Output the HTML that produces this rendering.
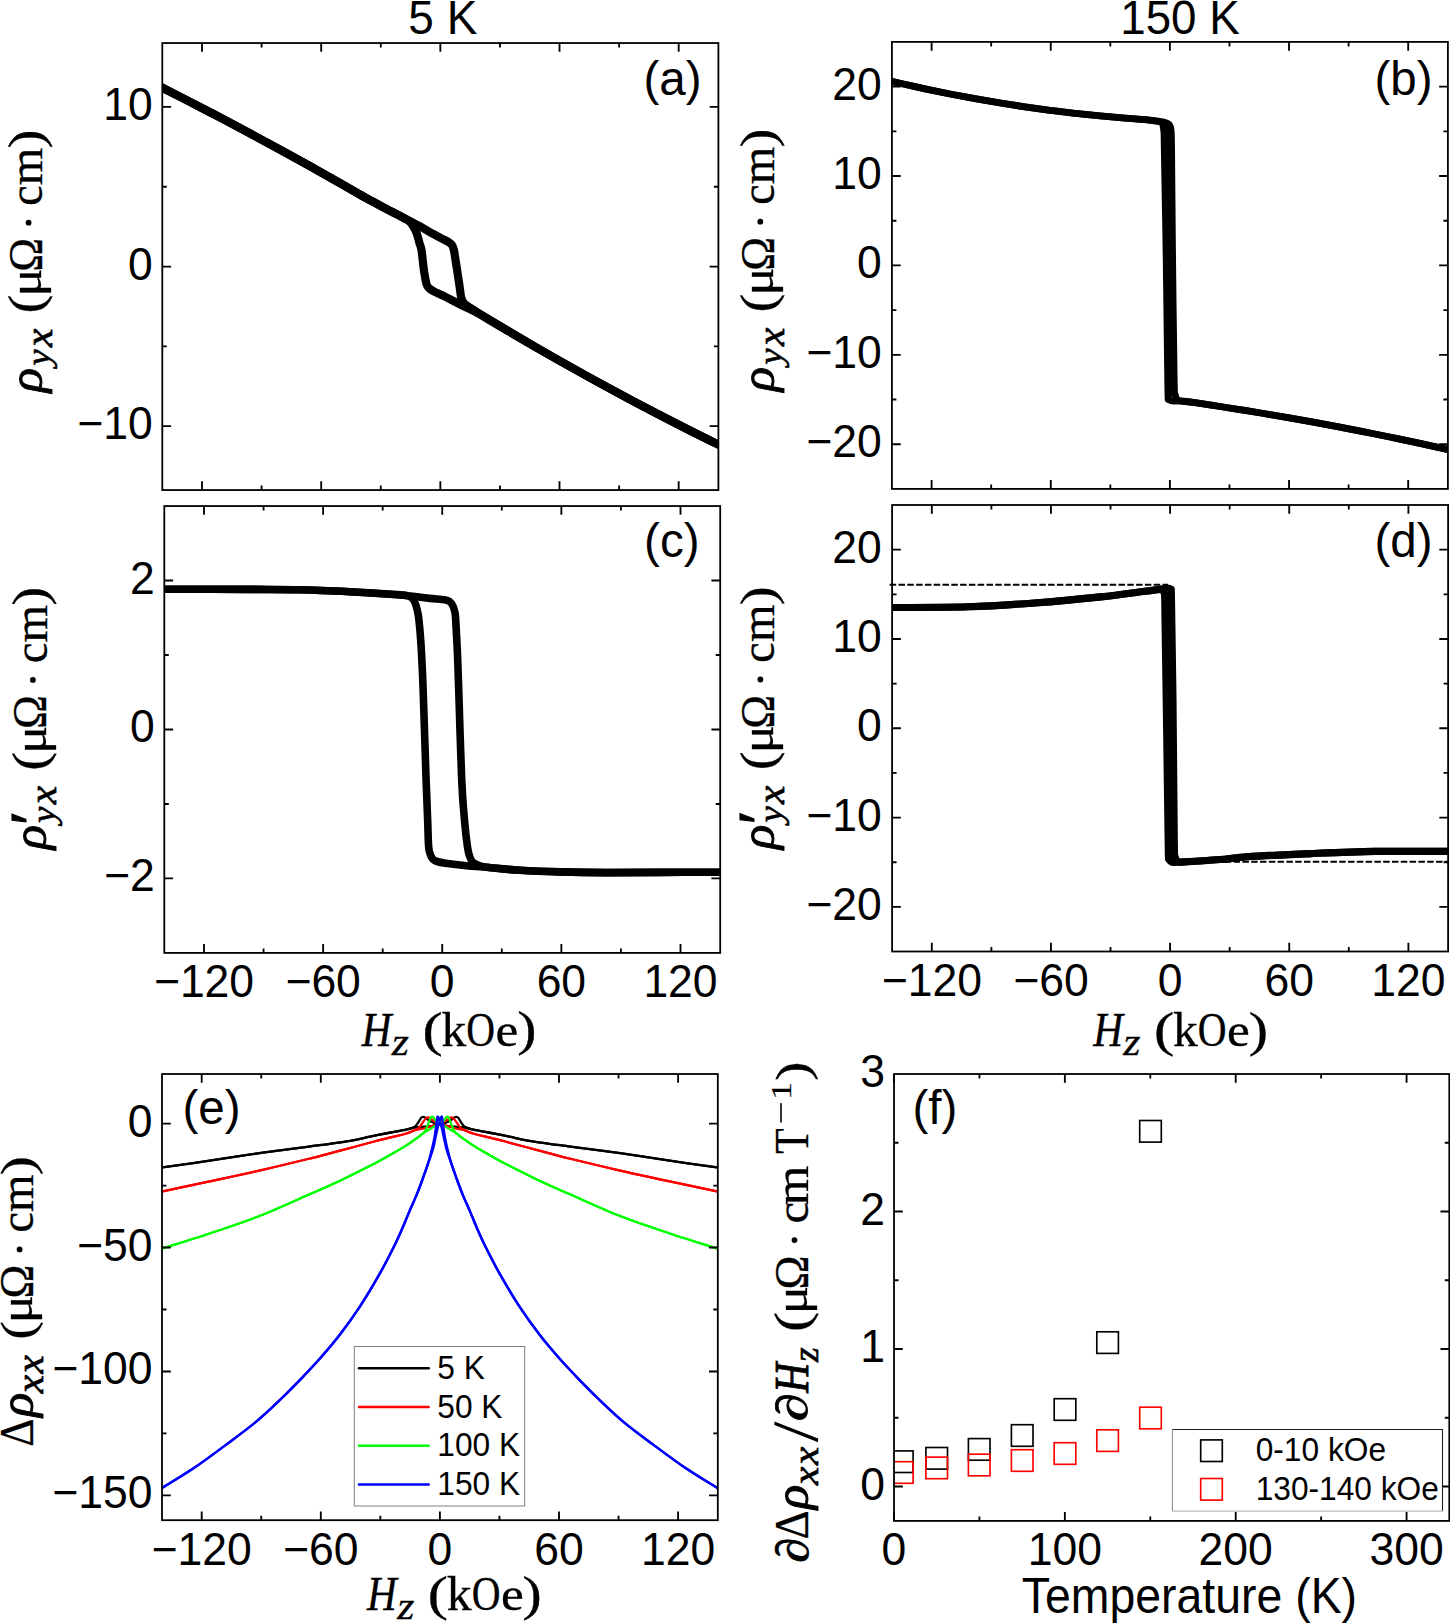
<!DOCTYPE html><html><head><meta charset="utf-8"><style>html,body{margin:0;padding:0;background:#fff;overflow:hidden}svg{display:block}</style></head><body><svg xmlns="http://www.w3.org/2000/svg" width="1450" height="1623" viewBox="0 0 1450 1623">
<style>.s{font-family:"Liberation Sans",sans-serif;fill:#000}.r{font-family:"Liberation Serif",serif;fill:#000;stroke:#000;stroke-width:0.3px}.i{font-style:italic;stroke-width:0.9px}</style>
<defs>
<clipPath id="ca"><rect x="162.3" y="43.05" width="556.1" height="447"/></clipPath>
<clipPath id="cb"><rect x="891.9" y="41.9" width="556" height="447"/></clipPath>
<clipPath id="cc"><rect x="164.3" y="506.05" width="555.9" height="446.85"/></clipPath>
<clipPath id="cd"><rect x="892.1" y="505" width="556" height="446.5"/></clipPath>
<clipPath id="ce"><rect x="162" y="1074" width="555.8" height="446.2"/></clipPath>
<clipPath id="cf"><rect x="894" y="1074" width="555.3" height="446.9"/></clipPath>
</defs>
<rect width="1450" height="1623" fill="#fff"/>
<path d="M155,589.2 C156.55,589.2 148.47,589.17 164.3,589.2 C180.13,589.23 227.38,589.32 250,589.4 C272.62,589.48 283.38,589.32 300,589.7 C316.62,590.08 334.53,590.95 349.7,591.7 C364.87,592.45 380.43,593.43 391,594.2 C401.57,594.97 406.65,595.6 413.1,596.3 C419.55,597 424.45,597.82 429.7,598.4 C434.95,598.98 441.3,599.28 444.6,599.8 C447.9,600.32 448.13,600.53 449.5,601.5 C450.87,602.47 451.92,603.85 452.8,605.6 C453.68,607.35 454.32,609.65 454.8,612 C455.28,614.35 455.27,612.9 455.7,619.7 C456.13,626.5 456.92,641.77 457.4,652.8 C457.88,663.83 457.88,664.7 458.6,685.9 C459.32,707.1 460.7,757.42 461.7,780 C462.7,802.58 463.65,810.37 464.6,821.4 C465.55,832.43 466.58,840.43 467.4,846.2 C468.22,851.97 468.6,853.32 469.5,856 C470.4,858.68 471.05,860.67 472.8,862.3 C474.55,863.93 476.97,864.9 480,865.8 C483.03,866.7 484.33,866.95 491,867.7 C497.67,868.45 508.5,869.6 520,870.3 C531.5,871 545.52,871.52 560,871.9 C574.48,872.28 590.23,872.52 606.9,872.6 C623.57,872.68 641.42,872.47 660,872.4 C678.58,872.33 707.57,872.23 718.4,872.2 C729.23,872.17 723.9,872.2 725,872.2" fill="none" stroke="#000" stroke-width="7.6" stroke-linejoin="round" stroke-linecap="round" clip-path="url(#cc)"/>
<path d="M725,872.2 C723.9,872.2 729.23,872.17 718.4,872.2 C707.57,872.23 678.58,872.33 660,872.4 C641.42,872.47 623.57,872.68 606.9,872.6 C590.23,872.52 574.48,872.28 560,871.9 C545.52,871.52 531.5,871 520,870.3 C508.5,869.6 499.97,868.47 491,867.7 C482.03,866.93 473.78,866.45 466.2,865.7 C458.62,864.95 450.37,863.9 445.5,863.2 C440.63,862.5 439.07,862.13 437,861.5 C434.93,860.87 434.22,860.57 433.1,859.4 C431.98,858.23 431.05,856.7 430.3,854.5 C429.55,852.3 429.03,851.72 428.6,846.2 C428.17,840.68 428.12,832.43 427.7,821.4 C427.28,810.37 426.88,802.58 426.1,780 C425.32,757.42 423.85,708.48 423,685.9 C422.15,663.32 421.68,655.53 421,644.5 C420.32,633.47 419.53,625.45 418.9,619.7 C418.27,613.95 417.82,612.77 417.2,610 C416.58,607.23 415.98,605 415.2,603.1 C414.42,601.2 413.87,599.85 412.5,598.6 C411.13,597.35 410.58,596.33 407,595.6 C403.42,594.87 400.55,594.85 391,594.2 C381.45,593.55 364.87,592.45 349.7,591.7 C334.53,590.95 316.62,590.08 300,589.7 C283.38,589.32 272.62,589.48 250,589.4 C227.38,589.32 180.13,589.23 164.3,589.2 C148.47,589.17 156.55,589.2 155,589.2" fill="none" stroke="#000" stroke-width="7.6" stroke-linejoin="round" stroke-linecap="round" clip-path="url(#cc)"/>
<path d="M155,84.03 C156.22,84.65 156.47,84.74 162.3,87.71 C168.13,90.68 180.38,96.88 190,101.84 C199.62,106.8 210,112.19 220,117.45 C230,122.7 240,128.01 250,133.38 C260,138.74 270,144.16 280,149.63 C290,155.1 300,160.62 310,166.2 C320,171.77 330.83,177.89 340,183.09 C349.17,188.29 357.13,193.04 365,197.41 C372.87,201.78 382.2,206.65 387.2,209.3 C392.2,211.95 392.12,211.8 395,213.3 C397.88,214.8 400.33,216.12 404.5,218.3 C408.67,220.48 415.15,223.75 420,226.4 C424.85,229.05 429.72,232.05 433.6,234.2 C437.48,236.35 440.82,238 443.3,239.3 C445.78,240.6 447.05,241.05 448.5,242 C449.95,242.95 451.1,243.67 452,245 C452.9,246.33 453.32,247.5 453.9,250 C454.48,252.5 454.98,256.78 455.5,260 C456.02,263.22 456.27,264.53 457,269.3 C457.73,274.07 459.2,283.9 459.9,288.6 C460.6,293.3 460.52,295.07 461.2,297.5 C461.88,299.93 462.45,301.47 464,303.2 C465.55,304.93 467,305.58 470.5,307.9 C474,310.22 478.42,313.11 485,317.13 C491.58,321.16 501.67,327.14 510,332.06 C518.33,336.99 526.67,341.86 535,346.69 C543.33,351.51 551.67,356.28 560,361.01 C568.33,365.73 576.67,370.4 585,375.02 C593.33,379.64 601.67,384.21 610,388.73 C618.33,393.25 626.67,397.71 635,402.13 C643.33,406.55 651.67,410.92 660,415.23 C668.33,419.55 676.67,423.81 685,428.02 C693.33,432.24 704.43,437.74 710,440.51 C715.57,443.28 715.73,443.33 718.4,444.64 C721.07,445.94 724.73,447.73 726,448.34" fill="none" stroke="#000" stroke-width="8.2" stroke-linejoin="round" stroke-linecap="round" clip-path="url(#ca)"/>
<path d="M726,448.34 C724.73,447.73 721.07,445.94 718.4,444.64 C715.73,443.33 715.57,443.28 710,440.51 C704.43,437.74 693.33,432.24 685,428.02 C676.67,423.81 668.33,419.55 660,415.23 C651.67,410.92 643.33,406.55 635,402.13 C626.67,397.71 618.33,393.25 610,388.73 C601.67,384.21 593.33,379.64 585,375.02 C576.67,370.4 568.33,365.73 560,361.01 C551.67,356.28 543.33,351.51 535,346.69 C526.67,341.86 518.33,336.99 510,332.06 C501.67,327.14 491.18,320.71 485,317.13 C478.82,313.56 477.33,312.86 472.9,310.6 C468.47,308.34 463.22,306.02 458.4,303.6 C453.58,301.18 448.02,298.1 444,296.1 C439.98,294.1 436.72,292.85 434.3,291.6 C431.88,290.35 430.75,289.7 429.5,288.6 C428.25,287.5 427.48,286.6 426.8,285 C426.12,283.4 425.9,281.62 425.4,279 C424.9,276.38 424.45,274.13 423.8,269.3 C423.15,264.47 422.2,254.28 421.5,250 C420.8,245.72 420.38,246.35 419.6,243.6 C418.82,240.85 417.8,236.3 416.8,233.5 C415.8,230.7 414.82,228.82 413.6,226.8 C412.38,224.78 411.02,222.82 409.5,221.4 C407.98,219.98 406.92,219.65 404.5,218.3 C402.08,216.95 397.88,214.8 395,213.3 C392.12,211.8 392.2,211.95 387.2,209.3 C382.2,206.65 372.87,201.78 365,197.41 C357.13,193.04 349.17,188.29 340,183.09 C330.83,177.89 320,171.77 310,166.2 C300,160.62 290,155.1 280,149.63 C270,144.16 260,138.74 250,133.38 C240,128.01 230,122.7 220,117.45 C210,112.19 199.62,106.8 190,101.84 C180.38,96.88 168.13,90.68 162.3,87.71 C156.47,84.74 156.22,84.65 155,84.03" fill="none" stroke="#000" stroke-width="8.2" stroke-linejoin="round" stroke-linecap="round" clip-path="url(#ca)"/>
<path d="M1167.4,126 L1171.4,396" stroke="#000" stroke-width="8" clip-path="url(#cb)"/>
<path d="M885,79.75 C887.5,80.34 893.33,81.77 900,83.28 C906.67,84.8 916.67,87.06 925,88.84 C933.33,90.62 941.67,92.33 950,93.97 C958.33,95.61 966.67,97.19 975,98.69 C983.33,100.19 991.67,101.62 1000,102.98 C1008.33,104.34 1016.67,105.63 1025,106.85 C1033.33,108.07 1041.67,109.22 1050,110.3 C1058.33,111.37 1066.67,112.38 1075,113.32 C1083.33,114.26 1091.67,115.13 1100,115.93 C1108.33,116.73 1117.5,117.51 1125,118.11 C1132.5,118.72 1139.5,119.02 1145,119.56 C1150.5,120.09 1154.75,120.86 1158,121.3 C1161.25,121.74 1162.63,121.67 1164.5,122.2 C1166.37,122.73 1168.12,123.2 1169.2,124.5 C1170.28,125.8 1170.6,125.75 1171,130 C1171.4,134.25 1171.35,130 1171.6,150 C1171.85,170 1172.07,211.67 1172.5,250 C1172.93,288.33 1173.73,355.83 1174.2,380 C1174.67,404.17 1174.67,391.62 1175.3,395 C1175.93,398.38 1177.05,399.3 1178,400.3 C1178.95,401.3 1178.17,400.59 1181,401 C1183.83,401.41 1188.5,401.82 1195,402.73 C1201.5,403.65 1211.67,405.21 1220,406.49 C1228.33,407.78 1236.67,409.09 1245,410.44 C1253.33,411.79 1261.67,413.17 1270,414.58 C1278.33,415.99 1286.67,417.43 1295,418.91 C1303.33,420.38 1311.67,421.89 1320,423.43 C1328.33,424.96 1336.67,426.53 1345,428.13 C1353.33,429.74 1361.67,431.37 1370,433.03 C1378.33,434.7 1386.67,436.39 1395,438.12 C1403.33,439.85 1411.67,441.61 1420,443.4 C1428.33,445.19 1439,447.55 1445,448.87 C1451,450.2 1454.17,450.93 1456,451.34" fill="none" stroke="#000" stroke-width="6.8" stroke-linejoin="round" clip-path="url(#cb)"/>
<path d="M1456,451.34 C1454.17,450.93 1451,450.2 1445,448.87 C1439,447.55 1428.33,445.19 1420,443.4 C1411.67,441.61 1403.33,439.85 1395,438.12 C1386.67,436.39 1378.33,434.7 1370,433.03 C1361.67,431.37 1353.33,429.74 1345,428.13 C1336.67,426.53 1328.33,424.96 1320,423.43 C1311.67,421.89 1303.33,420.38 1295,418.91 C1286.67,417.43 1278.33,415.99 1270,414.58 C1261.67,413.17 1253.33,411.79 1245,410.44 C1236.67,409.09 1228.33,407.78 1220,406.49 C1211.67,405.21 1201.5,403.65 1195,402.73 C1188.5,401.82 1184.67,401.29 1181,401 C1177.33,400.71 1175.03,401.42 1173,401 C1170.97,400.58 1169.67,401.17 1168.8,398.5 C1167.93,395.83 1168.23,408.08 1167.8,385 C1167.37,361.92 1166.78,299.17 1166.2,260 C1165.62,220.83 1164.68,171.33 1164.3,150 C1163.92,128.67 1164.2,136.33 1163.9,132 C1163.6,127.67 1163.32,125.77 1162.5,124 C1161.68,122.23 1159.75,121.85 1159,121.4 C1158.25,120.95 1160.33,121.61 1158,121.3 C1155.67,120.99 1150.5,120.09 1145,119.56 C1139.5,119.02 1132.5,118.72 1125,118.11 C1117.5,117.51 1108.33,116.73 1100,115.93 C1091.67,115.13 1083.33,114.26 1075,113.32 C1066.67,112.38 1058.33,111.37 1050,110.3 C1041.67,109.22 1033.33,108.07 1025,106.85 C1016.67,105.63 1008.33,104.34 1000,102.98 C991.67,101.62 983.33,100.19 975,98.69 C966.67,97.19 958.33,95.61 950,93.97 C941.67,92.33 933.33,90.62 925,88.84 C916.67,87.06 906.67,84.8 900,83.28 C893.33,81.77 887.5,80.34 885,79.75" fill="none" stroke="#000" stroke-width="6.8" stroke-linejoin="round" clip-path="url(#cb)"/>
<path d="M889.7,584.8H1168" stroke="#000" stroke-width="2" stroke-dasharray="6.5 2.3" fill="none"/>
<path d="M1172,861.7H1447" stroke="#000" stroke-width="2" stroke-dasharray="6.5 2.3" fill="none"/>
<path d="M1167.9,592 L1171.6,858" stroke="#000" stroke-width="8" clip-path="url(#cd)"/>
<path d="M885,607.6 C886.37,607.58 879.32,607.63 893.2,607.5 C907.08,607.37 944.75,607.55 968.3,606.8 C991.85,606.05 1012.43,604.65 1034.5,603 C1056.57,601.35 1082.32,598.85 1100.7,596.9 C1119.08,594.95 1134.5,592.6 1144.8,591.3 C1155.1,590 1158.72,589.65 1162.5,589.1 C1166.28,588.55 1166.12,587.77 1167.5,588 C1168.88,588.23 1170.13,588.5 1170.8,590.5 C1171.47,592.5 1171.13,581.75 1171.5,600 C1171.87,618.25 1172.53,660 1173,700 C1173.47,740 1173.97,814 1174.3,840 C1174.63,866 1174.38,852.42 1175,856 C1175.62,859.58 1176.48,860.52 1178,861.5 C1179.52,862.48 1177.1,862.23 1184.1,861.9 C1191.1,861.57 1209.53,860.35 1220,859.5 C1230.47,858.65 1231.73,857.78 1246.9,856.8 C1262.07,855.82 1289.62,854.5 1311,853.6 C1332.38,852.7 1352.75,851.77 1375.2,851.4 C1397.65,851.03 1432.4,851.4 1445.7,851.4 C1459,851.4 1453.45,851.4 1455,851.4" fill="none" stroke="#000" stroke-width="7.1" stroke-linejoin="round" clip-path="url(#cd)"/>
<path d="M1455,851.4 C1453.45,851.4 1459,851.4 1445.7,851.4 C1432.4,851.4 1397.65,851.03 1375.2,851.4 C1352.75,851.77 1332.38,852.7 1311,853.6 C1289.62,854.5 1262.07,855.82 1246.9,856.8 C1231.73,857.78 1230.47,858.65 1220,859.5 C1209.53,860.35 1192.1,861.45 1184.1,861.9 C1176.1,862.35 1174.52,862.77 1172,862.2 C1169.48,861.63 1169.63,861.37 1169,858.5 C1168.37,855.63 1168.62,868.08 1168.2,845 C1167.78,821.92 1167.03,757.5 1166.5,720 C1165.97,682.5 1165.33,640.83 1165,620 C1164.67,599.17 1165,600 1164.5,595 C1164,590 1162.33,590.98 1162,590 C1161.67,589.02 1165.37,588.88 1162.5,589.1 C1159.63,589.32 1155.1,590 1144.8,591.3 C1134.5,592.6 1119.08,594.95 1100.7,596.9 C1082.32,598.85 1056.57,601.35 1034.5,603 C1012.43,604.65 991.85,606.05 968.3,606.8 C944.75,607.55 907.08,607.37 893.2,607.5 C879.32,607.63 886.37,607.58 885,607.6" fill="none" stroke="#000" stroke-width="7.1" stroke-linejoin="round" clip-path="url(#cd)"/>
<path d="M160,1167.7 C160.42,1167.63 154.22,1168.47 162.5,1167.3 C170.78,1166.13 193.57,1163.05 209.7,1160.7 C225.83,1158.35 242.75,1155.55 259.3,1153.2 C275.85,1150.85 293.83,1148.67 309,1146.6 C324.17,1144.53 340.13,1142.47 350.3,1140.8 C360.47,1139.13 363.27,1137.98 370,1136.6 C376.73,1135.22 384.5,1133.7 390.7,1132.5 C396.9,1131.3 403.42,1130.22 407.2,1129.4 C410.98,1128.58 411.93,1128.25 413.4,1127.6 C414.87,1126.95 415.27,1126.23 416,1125.5 C416.73,1124.77 417.2,1124.08 417.8,1123.2 C418.4,1122.32 419.07,1121.07 419.6,1120.2 C420.13,1119.33 420.53,1118.53 421,1118 C421.47,1117.47 421.87,1117.13 422.4,1117 C422.93,1116.87 423.6,1117 424.2,1117.2 C424.8,1117.4 425.37,1117.77 426,1118.2 C426.63,1118.63 427.17,1119.25 428,1119.8 C428.83,1120.35 429.92,1120.95 431,1121.5 C432.08,1122.05 433.05,1122.65 434.5,1123.1 C435.95,1123.55 438.05,1123.83 439.7,1124.2 C441.35,1124.57 442.78,1124.97 444.4,1125.3 C446.02,1125.63 446.9,1125.9 449.4,1126.2 C451.9,1126.5 456.63,1126.87 459.4,1127.1 C462.17,1127.33 463.87,1127.22 466,1127.6 C468.13,1127.98 468.42,1128.58 472.2,1129.4 C475.98,1130.22 482.5,1131.3 488.7,1132.5 C494.9,1133.7 502.67,1135.22 509.4,1136.6 C516.13,1137.98 518.93,1139.13 529.1,1140.8 C539.27,1142.47 555.23,1144.53 570.4,1146.6 C585.57,1148.67 603.55,1150.85 620.1,1153.2 C636.65,1155.55 653.57,1158.35 669.7,1160.7 C685.83,1163.05 708.62,1166.13 716.9,1167.3 C725.18,1168.47 718.98,1167.63 719.4,1167.7" fill="none" stroke="#000" stroke-width="2.3" stroke-linejoin="round" clip-path="url(#ce)"/>
<path d="M719.4,1167.7 C718.98,1167.63 725.18,1168.47 716.9,1167.3 C708.62,1166.13 685.83,1163.05 669.7,1160.7 C653.57,1158.35 636.65,1155.55 620.1,1153.2 C603.55,1150.85 585.57,1148.67 570.4,1146.6 C555.23,1144.53 539.27,1142.47 529.1,1140.8 C518.93,1139.13 516.13,1137.98 509.4,1136.6 C502.67,1135.22 494.9,1133.7 488.7,1132.5 C482.5,1131.3 475.98,1130.22 472.2,1129.4 C468.42,1128.58 467.47,1128.25 466,1127.6 C464.53,1126.95 464.13,1126.23 463.4,1125.5 C462.67,1124.77 462.2,1124.08 461.6,1123.2 C461,1122.32 460.33,1121.07 459.8,1120.2 C459.27,1119.33 458.87,1118.53 458.4,1118 C457.93,1117.47 457.53,1117.13 457,1117 C456.47,1116.87 455.8,1117 455.2,1117.2 C454.6,1117.4 454.03,1117.77 453.4,1118.2 C452.77,1118.63 452.23,1119.25 451.4,1119.8 C450.57,1120.35 449.48,1120.95 448.4,1121.5 C447.32,1122.05 446.35,1122.65 444.9,1123.1 C443.45,1123.55 441.35,1123.83 439.7,1124.2 C438.05,1124.57 436.62,1124.97 435,1125.3 C433.38,1125.63 432.5,1125.9 430,1126.2 C427.5,1126.5 422.77,1126.87 420,1127.1 C417.23,1127.33 415.53,1127.22 413.4,1127.6 C411.27,1127.98 410.98,1128.58 407.2,1129.4 C403.42,1130.22 396.9,1131.3 390.7,1132.5 C384.5,1133.7 376.73,1135.22 370,1136.6 C363.27,1137.98 360.47,1139.13 350.3,1140.8 C340.13,1142.47 324.17,1144.53 309,1146.6 C293.83,1148.67 275.85,1150.85 259.3,1153.2 C242.75,1155.55 225.83,1158.35 209.7,1160.7 C193.57,1163.05 170.78,1166.13 162.5,1167.3 C154.22,1168.47 160.42,1167.63 160,1167.7" fill="none" stroke="#000" stroke-width="2.3" stroke-linejoin="round" clip-path="url(#ce)"/>
<path d="M160,1191.8 C160.42,1191.72 154.22,1193.03 162.5,1191.3 C170.78,1189.57 193.57,1184.85 209.7,1181.4 C225.83,1177.95 242.75,1174.37 259.3,1170.6 C275.85,1166.83 295.2,1162.22 309,1158.8 C322.8,1155.38 331.07,1153.02 342.1,1150.1 C353.13,1147.18 367.1,1143.42 375.2,1141.3 C383.3,1139.18 385.37,1138.75 390.7,1137.4 C396.03,1136.05 403.07,1134.45 407.2,1133.2 C411.33,1131.95 413.62,1130.77 415.5,1129.9 C417.38,1129.03 417.58,1128.82 418.5,1128 C419.42,1127.18 420.25,1125.98 421,1125 C421.75,1124.02 422.37,1123 423,1122.1 C423.63,1121.2 424.27,1120.28 424.8,1119.6 C425.33,1118.92 425.73,1118.37 426.2,1118 C426.67,1117.63 427.07,1117.43 427.6,1117.4 C428.13,1117.37 428.75,1117.48 429.4,1117.8 C430.05,1118.12 430.48,1118.6 431.5,1119.3 C432.52,1120 434.13,1121.28 435.5,1122 C436.87,1122.72 438.05,1123.07 439.7,1123.6 C441.35,1124.13 443.78,1124.7 445.4,1125.2 C447.02,1125.7 447.7,1126.05 449.4,1126.6 C451.1,1127.15 453.18,1127.95 455.6,1128.5 C458.02,1129.05 461.13,1129.12 463.9,1129.9 C466.67,1130.68 468.07,1131.95 472.2,1133.2 C476.33,1134.45 483.37,1136.05 488.7,1137.4 C494.03,1138.75 496.1,1139.18 504.2,1141.3 C512.3,1143.42 526.27,1147.18 537.3,1150.1 C548.33,1153.02 556.6,1155.38 570.4,1158.8 C584.2,1162.22 603.55,1166.83 620.1,1170.6 C636.65,1174.37 653.57,1177.95 669.7,1181.4 C685.83,1184.85 708.62,1189.57 716.9,1191.3 C725.18,1193.03 718.98,1191.72 719.4,1191.8" fill="none" stroke="#ff0000" stroke-width="2.2" stroke-linejoin="round" clip-path="url(#ce)"/>
<path d="M719.4,1191.8 C718.98,1191.72 725.18,1193.03 716.9,1191.3 C708.62,1189.57 685.83,1184.85 669.7,1181.4 C653.57,1177.95 636.65,1174.37 620.1,1170.6 C603.55,1166.83 584.2,1162.22 570.4,1158.8 C556.6,1155.38 548.33,1153.02 537.3,1150.1 C526.27,1147.18 512.3,1143.42 504.2,1141.3 C496.1,1139.18 494.03,1138.75 488.7,1137.4 C483.37,1136.05 476.33,1134.45 472.2,1133.2 C468.07,1131.95 465.78,1130.77 463.9,1129.9 C462.02,1129.03 461.82,1128.82 460.9,1128 C459.98,1127.18 459.15,1125.98 458.4,1125 C457.65,1124.02 457.03,1123 456.4,1122.1 C455.77,1121.2 455.13,1120.28 454.6,1119.6 C454.07,1118.92 453.67,1118.37 453.2,1118 C452.73,1117.63 452.33,1117.43 451.8,1117.4 C451.27,1117.37 450.65,1117.48 450,1117.8 C449.35,1118.12 448.92,1118.6 447.9,1119.3 C446.88,1120 445.27,1121.28 443.9,1122 C442.53,1122.72 441.35,1123.07 439.7,1123.6 C438.05,1124.13 435.62,1124.7 434,1125.2 C432.38,1125.7 431.7,1126.05 430,1126.6 C428.3,1127.15 426.22,1127.95 423.8,1128.5 C421.38,1129.05 418.27,1129.12 415.5,1129.9 C412.73,1130.68 411.33,1131.95 407.2,1133.2 C403.07,1134.45 396.03,1136.05 390.7,1137.4 C385.37,1138.75 383.3,1139.18 375.2,1141.3 C367.1,1143.42 353.13,1147.18 342.1,1150.1 C331.07,1153.02 322.8,1155.38 309,1158.8 C295.2,1162.22 275.85,1166.83 259.3,1170.6 C242.75,1174.37 225.83,1177.95 209.7,1181.4 C193.57,1184.85 170.78,1189.57 162.5,1191.3 C154.22,1193.03 160.42,1191.72 160,1191.8" fill="none" stroke="#ff0000" stroke-width="2.2" stroke-linejoin="round" clip-path="url(#ce)"/>
<path d="M160,1249.3 C160.42,1249.15 154.22,1251.03 162.5,1248.4 C170.78,1245.77 193.57,1238.88 209.7,1233.5 C225.83,1228.12 242.75,1222.58 259.3,1216.1 C275.85,1209.62 295.2,1200.67 309,1194.6 C322.8,1188.53 331.93,1184.5 342.1,1179.7 C352.27,1174.9 363.28,1169.2 370,1165.8 C376.72,1162.4 378.27,1161.55 382.4,1159.3 C386.53,1157.05 390.67,1154.7 394.8,1152.3 C398.93,1149.9 403.75,1147.1 407.2,1144.9 C410.65,1142.7 413.03,1140.88 415.5,1139.1 C417.97,1137.32 420.58,1135.28 422,1134.2 C423.42,1133.12 423.42,1133.27 424,1132.6 C424.58,1131.93 425,1131.17 425.5,1130.2 C426,1129.23 426.48,1128.03 427,1126.8 C427.52,1125.57 428.12,1124 428.6,1122.8 C429.08,1121.6 429.5,1120.5 429.9,1119.6 C430.3,1118.7 430.65,1117.88 431,1117.4 C431.35,1116.92 431.62,1116.7 432,1116.7 C432.38,1116.7 432.83,1116.98 433.3,1117.4 C433.77,1117.82 434.28,1118.47 434.8,1119.2 C435.32,1119.93 435.58,1121 436.4,1121.8 C437.22,1122.6 438.78,1123.53 439.7,1124 C440.62,1124.47 441.1,1124.28 441.9,1124.6 C442.7,1124.92 443.42,1125.23 444.5,1125.9 C445.58,1126.57 447.17,1127.83 448.4,1128.6 C449.63,1129.37 450.73,1129.83 451.9,1130.5 C453.07,1131.17 454.48,1131.98 455.4,1132.6 C456.32,1133.22 455.98,1133.12 457.4,1134.2 C458.82,1135.28 461.43,1137.32 463.9,1139.1 C466.37,1140.88 468.75,1142.7 472.2,1144.9 C475.65,1147.1 480.47,1149.9 484.6,1152.3 C488.73,1154.7 492.87,1157.05 497,1159.3 C501.13,1161.55 502.68,1162.4 509.4,1165.8 C516.12,1169.2 527.13,1174.9 537.3,1179.7 C547.47,1184.5 556.6,1188.53 570.4,1194.6 C584.2,1200.67 603.55,1209.62 620.1,1216.1 C636.65,1222.58 653.57,1228.12 669.7,1233.5 C685.83,1238.88 708.62,1245.77 716.9,1248.4 C725.18,1251.03 718.98,1249.15 719.4,1249.3" fill="none" stroke="#00ff00" stroke-width="2.2" stroke-linejoin="round" clip-path="url(#ce)"/>
<path d="M719.4,1249.3 C718.98,1249.15 725.18,1251.03 716.9,1248.4 C708.62,1245.77 685.83,1238.88 669.7,1233.5 C653.57,1228.12 636.65,1222.58 620.1,1216.1 C603.55,1209.62 584.2,1200.67 570.4,1194.6 C556.6,1188.53 547.47,1184.5 537.3,1179.7 C527.13,1174.9 516.12,1169.2 509.4,1165.8 C502.68,1162.4 501.13,1161.55 497,1159.3 C492.87,1157.05 488.73,1154.7 484.6,1152.3 C480.47,1149.9 475.65,1147.1 472.2,1144.9 C468.75,1142.7 466.37,1140.88 463.9,1139.1 C461.43,1137.32 458.82,1135.28 457.4,1134.2 C455.98,1133.12 455.98,1133.27 455.4,1132.6 C454.82,1131.93 454.4,1131.17 453.9,1130.2 C453.4,1129.23 452.92,1128.03 452.4,1126.8 C451.88,1125.57 451.28,1124 450.8,1122.8 C450.32,1121.6 449.9,1120.5 449.5,1119.6 C449.1,1118.7 448.75,1117.88 448.4,1117.4 C448.05,1116.92 447.78,1116.7 447.4,1116.7 C447.02,1116.7 446.57,1116.98 446.1,1117.4 C445.63,1117.82 445.12,1118.47 444.6,1119.2 C444.08,1119.93 443.82,1121 443,1121.8 C442.18,1122.6 440.62,1123.53 439.7,1124 C438.78,1124.47 438.3,1124.28 437.5,1124.6 C436.7,1124.92 435.98,1125.23 434.9,1125.9 C433.82,1126.57 432.23,1127.83 431,1128.6 C429.77,1129.37 428.67,1129.83 427.5,1130.5 C426.33,1131.17 424.92,1131.98 424,1132.6 C423.08,1133.22 423.42,1133.12 422,1134.2 C420.58,1135.28 417.97,1137.32 415.5,1139.1 C413.03,1140.88 410.65,1142.7 407.2,1144.9 C403.75,1147.1 398.93,1149.9 394.8,1152.3 C390.67,1154.7 386.53,1157.05 382.4,1159.3 C378.27,1161.55 376.72,1162.4 370,1165.8 C363.28,1169.2 352.27,1174.9 342.1,1179.7 C331.93,1184.5 322.8,1188.53 309,1194.6 C295.2,1200.67 275.85,1209.62 259.3,1216.1 C242.75,1222.58 225.83,1228.12 209.7,1233.5 C193.57,1238.88 170.78,1245.77 162.5,1248.4 C154.22,1251.03 160.42,1249.15 160,1249.3" fill="none" stroke="#00ff00" stroke-width="2.2" stroke-linejoin="round" clip-path="url(#ce)"/>
<path d="M160,1489.3 C160.37,1489.07 156.68,1491.35 162.2,1487.9 C167.72,1484.45 182.43,1475.82 193.1,1468.6 C203.77,1461.38 215.72,1452.4 226.2,1444.6 C236.68,1436.8 246.8,1429.48 256,1421.8 C265.2,1414.12 273.5,1406.08 281.4,1398.5 C289.3,1390.92 297.02,1382.92 303.4,1376.3 C309.78,1369.68 313.7,1365.63 319.7,1358.8 C325.7,1351.97 332.82,1343.82 339.4,1335.3 C345.98,1326.78 352.62,1317.72 359.2,1307.7 C365.78,1297.68 373.1,1285.4 378.9,1275.2 C384.7,1265 390.12,1254.25 394,1246.5 C397.88,1238.75 399.68,1234.43 402.2,1228.7 C404.72,1222.97 406.73,1217.65 409.1,1212.1 C411.47,1206.55 414.13,1200.95 416.4,1195.4 C418.67,1189.85 420.68,1184.33 422.7,1178.8 C424.72,1173.27 427,1167 428.5,1162.2 C430,1157.4 430.78,1153.7 431.7,1150 C432.62,1146.3 433.35,1143.33 434,1140 C434.65,1136.67 435.15,1133 435.6,1130 C436.05,1127 436.38,1124.17 436.7,1122 C437.02,1119.83 437.22,1117.77 437.5,1117 C437.78,1116.23 438.03,1116.65 438.4,1117.4 C438.77,1118.15 439.27,1120.2 439.7,1121.5 C440.13,1122.8 440.53,1123.62 441,1125.2 C441.47,1126.78 441.93,1128.53 442.5,1131 C443.07,1133.47 443.7,1136.83 444.4,1140 C445.1,1143.17 445.62,1146.3 446.7,1150 C447.78,1153.7 449.23,1157.4 450.9,1162.2 C452.57,1167 454.68,1173.27 456.7,1178.8 C458.72,1184.33 460.73,1189.85 463,1195.4 C465.27,1200.95 467.93,1206.55 470.3,1212.1 C472.67,1217.65 474.68,1222.97 477.2,1228.7 C479.72,1234.43 481.52,1238.75 485.4,1246.5 C489.28,1254.25 494.7,1265 500.5,1275.2 C506.3,1285.4 513.62,1297.68 520.2,1307.7 C526.78,1317.72 533.42,1326.78 540,1335.3 C546.58,1343.82 553.7,1351.97 559.7,1358.8 C565.7,1365.63 569.62,1369.68 576,1376.3 C582.38,1382.92 590.1,1390.92 598,1398.5 C605.9,1406.08 614.2,1414.12 623.4,1421.8 C632.6,1429.48 642.72,1436.8 653.2,1444.6 C663.68,1452.4 675.63,1461.38 686.3,1468.6 C696.97,1475.82 711.68,1484.45 717.2,1487.9 C722.72,1491.35 719.03,1489.07 719.4,1489.3" fill="none" stroke="#0000ff" stroke-width="2.4" stroke-linejoin="round" clip-path="url(#ce)"/>
<path d="M719.4,1489.3 C719.03,1489.07 722.72,1491.35 717.2,1487.9 C711.68,1484.45 696.97,1475.82 686.3,1468.6 C675.63,1461.38 663.68,1452.4 653.2,1444.6 C642.72,1436.8 632.6,1429.48 623.4,1421.8 C614.2,1414.12 605.9,1406.08 598,1398.5 C590.1,1390.92 582.38,1382.92 576,1376.3 C569.62,1369.68 565.7,1365.63 559.7,1358.8 C553.7,1351.97 546.58,1343.82 540,1335.3 C533.42,1326.78 526.78,1317.72 520.2,1307.7 C513.62,1297.68 506.3,1285.4 500.5,1275.2 C494.7,1265 489.28,1254.25 485.4,1246.5 C481.52,1238.75 479.72,1234.43 477.2,1228.7 C474.68,1222.97 472.67,1217.65 470.3,1212.1 C467.93,1206.55 465.27,1200.95 463,1195.4 C460.73,1189.85 458.72,1184.33 456.7,1178.8 C454.68,1173.27 452.4,1167 450.9,1162.2 C449.4,1157.4 448.62,1153.7 447.7,1150 C446.78,1146.3 446.05,1143.33 445.4,1140 C444.75,1136.67 444.25,1133 443.8,1130 C443.35,1127 443.02,1124.17 442.7,1122 C442.38,1119.83 442.18,1117.77 441.9,1117 C441.62,1116.23 441.37,1116.65 441,1117.4 C440.63,1118.15 440.13,1120.2 439.7,1121.5 C439.27,1122.8 438.87,1123.62 438.4,1125.2 C437.93,1126.78 437.47,1128.53 436.9,1131 C436.33,1133.47 435.7,1136.83 435,1140 C434.3,1143.17 433.78,1146.3 432.7,1150 C431.62,1153.7 430.17,1157.4 428.5,1162.2 C426.83,1167 424.72,1173.27 422.7,1178.8 C420.68,1184.33 418.67,1189.85 416.4,1195.4 C414.13,1200.95 411.47,1206.55 409.1,1212.1 C406.73,1217.65 404.72,1222.97 402.2,1228.7 C399.68,1234.43 397.88,1238.75 394,1246.5 C390.12,1254.25 384.7,1265 378.9,1275.2 C373.1,1285.4 365.78,1297.68 359.2,1307.7 C352.62,1317.72 345.98,1326.78 339.4,1335.3 C332.82,1343.82 325.7,1351.97 319.7,1358.8 C313.7,1365.63 309.78,1369.68 303.4,1376.3 C297.02,1382.92 289.3,1390.92 281.4,1398.5 C273.5,1406.08 265.2,1414.12 256,1421.8 C246.8,1429.48 236.68,1436.8 226.2,1444.6 C215.72,1452.4 203.77,1461.38 193.1,1468.6 C182.43,1475.82 167.72,1484.45 162.2,1487.9 C156.68,1491.35 160.37,1489.07 160,1489.3" fill="none" stroke="#0000ff" stroke-width="2.4" stroke-linejoin="round" clip-path="url(#ce)"/>
<g clip-path="url(#cf)">
<rect x="891.5" y="1450.9" width="21.6" height="21.6" fill="none" stroke="#000" stroke-width="1.65"/>
<rect x="925.9" y="1447.5" width="21.6" height="21.6" fill="none" stroke="#000" stroke-width="1.65"/>
<rect x="968.4" y="1438.6" width="21.6" height="21.6" fill="none" stroke="#000" stroke-width="1.65"/>
<rect x="1011.4" y="1424.7" width="21.6" height="21.6" fill="none" stroke="#000" stroke-width="1.65"/>
<rect x="1054.2" y="1398.7" width="21.6" height="21.6" fill="none" stroke="#000" stroke-width="1.65"/>
<rect x="1096.8" y="1331.8" width="21.6" height="21.6" fill="none" stroke="#000" stroke-width="1.65"/>
<rect x="1139.7" y="1120.5" width="21.6" height="21.6" fill="none" stroke="#000" stroke-width="1.65"/>
<rect x="891.5" y="1461.7" width="21.6" height="21.6" fill="none" stroke="#ff0000" stroke-width="1.65"/>
<rect x="925.9" y="1457.1" width="21.6" height="21.6" fill="none" stroke="#ff0000" stroke-width="1.65"/>
<rect x="968.4" y="1454.2" width="21.6" height="21.6" fill="none" stroke="#ff0000" stroke-width="1.65"/>
<rect x="1011.4" y="1449.7" width="21.6" height="21.6" fill="none" stroke="#ff0000" stroke-width="1.65"/>
<rect x="1054.2" y="1442.7" width="21.6" height="21.6" fill="none" stroke="#ff0000" stroke-width="1.65"/>
<rect x="1096.8" y="1429.8" width="21.6" height="21.6" fill="none" stroke="#ff0000" stroke-width="1.65"/>
<rect x="1139.7" y="1407.2" width="21.6" height="21.6" fill="none" stroke="#ff0000" stroke-width="1.65"/>
</g>
<rect x="162.3" y="43.05" width="556.1" height="447" fill="none" stroke="#000" stroke-width="1.8"/>
<path d="M202.02,490.05v-8.8M202.02,43.05v8.8M321.19,490.05v-8.8M321.19,43.05v8.8M440.35,490.05v-8.8M440.35,43.05v8.8M559.51,490.05v-8.8M559.51,43.05v8.8M678.68,490.05v-8.8M678.68,43.05v8.8M162.3,426.19h8.8M718.4,426.19h-8.8M162.3,266.55h8.8M718.4,266.55h-8.8M162.3,106.91h8.8M718.4,106.91h-8.8" stroke="#000" stroke-width="1.85" fill="none"/>
<path d="M261.6,490.05v-4.5M261.6,43.05v4.5M380.77,490.05v-4.5M380.77,43.05v4.5M499.93,490.05v-4.5M499.93,43.05v4.5M619.1,490.05v-4.5M619.1,43.05v4.5M162.3,346.37h4.5M718.4,346.37h-4.5M162.3,186.73h4.5M718.4,186.73h-4.5" stroke="#000" stroke-width="1.85" fill="none"/>
<rect x="891.9" y="41.9" width="556" height="447" fill="none" stroke="#000" stroke-width="1.8"/>
<path d="M931.61,488.9v-8.8M931.61,41.9v8.8M1050.76,488.9v-8.8M1050.76,41.9v8.8M1169.9,488.9v-8.8M1169.9,41.9v8.8M1289.04,488.9v-8.8M1289.04,41.9v8.8M1408.19,488.9v-8.8M1408.19,41.9v8.8M891.9,444.2h8.8M1447.9,444.2h-8.8M891.9,354.8h8.8M1447.9,354.8h-8.8M891.9,265.4h8.8M1447.9,265.4h-8.8M891.9,176h8.8M1447.9,176h-8.8M891.9,86.6h8.8M1447.9,86.6h-8.8" stroke="#000" stroke-width="1.85" fill="none"/>
<path d="M991.19,488.9v-4.5M991.19,41.9v4.5M1110.33,488.9v-4.5M1110.33,41.9v4.5M1229.47,488.9v-4.5M1229.47,41.9v4.5M1348.61,488.9v-4.5M1348.61,41.9v4.5M891.9,399.5h4.5M1447.9,399.5h-4.5M891.9,310.1h4.5M1447.9,310.1h-4.5M891.9,220.7h4.5M1447.9,220.7h-4.5M891.9,131.3h4.5M1447.9,131.3h-4.5" stroke="#000" stroke-width="1.85" fill="none"/>
<rect x="164.3" y="506.05" width="555.9" height="446.85" fill="none" stroke="#000" stroke-width="1.8"/>
<path d="M204.01,952.9v-8.8M204.01,506.05v8.8M323.13,952.9v-8.8M323.13,506.05v8.8M442.25,952.9v-8.8M442.25,506.05v8.8M561.37,952.9v-8.8M561.37,506.05v8.8M680.49,952.9v-8.8M680.49,506.05v8.8M164.3,878.42h8.8M720.2,878.42h-8.8M164.3,729.48h8.8M720.2,729.48h-8.8M164.3,580.52h8.8M720.2,580.52h-8.8" stroke="#000" stroke-width="1.85" fill="none"/>
<path d="M263.57,952.9v-4.5M263.57,506.05v4.5M382.69,952.9v-4.5M382.69,506.05v4.5M501.81,952.9v-4.5M501.81,506.05v4.5M620.93,952.9v-4.5M620.93,506.05v4.5M164.3,803.95h4.5M720.2,803.95h-4.5M164.3,655h4.5M720.2,655h-4.5" stroke="#000" stroke-width="1.85" fill="none"/>
<rect x="892.1" y="505" width="556" height="446.5" fill="none" stroke="#000" stroke-width="1.8"/>
<path d="M931.81,951.5v-8.8M931.81,505v8.8M1050.96,951.5v-8.8M1050.96,505v8.8M1170.1,951.5v-8.8M1170.1,505v8.8M1289.24,951.5v-8.8M1289.24,505v8.8M1408.39,951.5v-8.8M1408.39,505v8.8M892.1,906.85h8.8M1448.1,906.85h-8.8M892.1,817.55h8.8M1448.1,817.55h-8.8M892.1,728.25h8.8M1448.1,728.25h-8.8M892.1,638.95h8.8M1448.1,638.95h-8.8M892.1,549.65h8.8M1448.1,549.65h-8.8" stroke="#000" stroke-width="1.85" fill="none"/>
<path d="M991.39,951.5v-4.5M991.39,505v4.5M1110.53,951.5v-4.5M1110.53,505v4.5M1229.67,951.5v-4.5M1229.67,505v4.5M1348.81,951.5v-4.5M1348.81,505v4.5M892.1,862.2h4.5M1448.1,862.2h-4.5M892.1,772.9h4.5M1448.1,772.9h-4.5M892.1,683.6h4.5M1448.1,683.6h-4.5M892.1,594.3h4.5M1448.1,594.3h-4.5" stroke="#000" stroke-width="1.85" fill="none"/>
<rect x="162" y="1074" width="555.8" height="446.2" fill="none" stroke="#000" stroke-width="1.8"/>
<path d="M201.7,1520.2v-8.8M201.7,1074v8.8M320.8,1520.2v-8.8M320.8,1074v8.8M439.9,1520.2v-8.8M439.9,1074v8.8M559,1520.2v-8.8M559,1074v8.8M678.1,1520.2v-8.8M678.1,1074v8.8M162,1495.41h8.8M717.8,1495.41h-8.8M162,1371.47h8.8M717.8,1371.47h-8.8M162,1247.52h8.8M717.8,1247.52h-8.8M162,1123.58h8.8M717.8,1123.58h-8.8" stroke="#000" stroke-width="1.85" fill="none"/>
<path d="M261.25,1520.2v-4.5M261.25,1074v4.5M380.35,1520.2v-4.5M380.35,1074v4.5M499.45,1520.2v-4.5M499.45,1074v4.5M618.55,1520.2v-4.5M618.55,1074v4.5M162,1433.44h4.5M717.8,1433.44h-4.5M162,1309.49h4.5M717.8,1309.49h-4.5M162,1185.55h4.5M717.8,1185.55h-4.5" stroke="#000" stroke-width="1.85" fill="none"/>
<rect x="894" y="1074" width="555.3" height="446.9" fill="none" stroke="#000" stroke-width="1.8"/>
<path d="M894,1520.9v-8.8M894,1074v8.8M1064.86,1520.9v-8.8M1064.86,1074v8.8M1235.72,1520.9v-8.8M1235.72,1074v8.8M1406.58,1520.9v-8.8M1406.58,1074v8.8M894,1486.52h8.8M1449.3,1486.52h-8.8M894,1349.02h8.8M1449.3,1349.02h-8.8M894,1211.51h8.8M1449.3,1211.51h-8.8" stroke="#000" stroke-width="1.85" fill="none"/>
<path d="M979.43,1520.9v-4.5M979.43,1074v4.5M1150.29,1520.9v-4.5M1150.29,1074v4.5M1321.15,1520.9v-4.5M1321.15,1074v4.5M894,1417.77h4.5M1449.3,1417.77h-4.5M894,1280.26h4.5M1449.3,1280.26h-4.5M894,1142.75h4.5M1449.3,1142.75h-4.5" stroke="#000" stroke-width="1.85" fill="none"/>
<rect x="354.3" y="1346.5" width="170.4" height="159.5" fill="#fff" stroke="#808080" stroke-width="1"/>
<path d="M359,1368.2H428.7" stroke="#000" stroke-width="2.5" stroke-linecap="round"/>
<text transform="translate(437.3,1378.8) scale(1.0,1.025)" class="s" font-size="31.7">5 K</text>
<path d="M359,1406.97H428.7" stroke="#ff0000" stroke-width="2.5" stroke-linecap="round"/>
<text transform="translate(437.3,1417.57) scale(1.0,1.025)" class="s" font-size="31.7">50 K</text>
<path d="M359,1445.74H428.7" stroke="#00ff00" stroke-width="2.5" stroke-linecap="round"/>
<text transform="translate(437.3,1456.34) scale(1.0,1.025)" class="s" font-size="31.7">100 K</text>
<path d="M359,1484.51H428.7" stroke="#0000ff" stroke-width="2.5" stroke-linecap="round"/>
<text transform="translate(437.3,1495.11) scale(1.0,1.025)" class="s" font-size="31.7">150 K</text>
<rect x="1172.4" y="1429" width="270.2" height="82" fill="#fff"/>
<path d="M1172.4,1429.5H1442.6" stroke="#1c1c1c" stroke-width="1.2"/>
<path d="M1442.5,1429V1511" stroke="#222" stroke-width="1.1"/>
<path d="M1172.4,1429V1511" stroke="#858585" stroke-width="1"/>
<path d="M1172.4,1511.1H1442.6" stroke="#bbb" stroke-width="1.1"/>
<rect x="1200.7" y="1439.9" width="21.6" height="21.6" fill="none" stroke="#000" stroke-width="1.65"/>
<rect x="1200.7" y="1478.5" width="21.6" height="21.6" fill="none" stroke="#ff0000" stroke-width="1.65"/>
<text transform="translate(1255.7,1461) scale(1.0,1.025)" class="s" font-size="31.7">0-10 kOe</text>
<text transform="translate(1255.7,1500) scale(1.0,1.025)" class="s" font-size="31.7">130-140 kOe</text>
<text transform="translate(152.8,119.92) scale(1.0,1.04)" text-anchor="end" class="s" font-size="44.5">10</text>
<text transform="translate(152.8,279.56) scale(1.0,1.04)" text-anchor="end" class="s" font-size="44.5">0</text>
<text transform="translate(152.8,439.2) scale(1.0,1.04)" text-anchor="end" class="s" font-size="44.5">−10</text>
<text transform="translate(881.8,99.61) scale(1.0,1.04)" text-anchor="end" class="s" font-size="44.5">20</text>
<text transform="translate(881.8,189.01) scale(1.0,1.04)" text-anchor="end" class="s" font-size="44.5">10</text>
<text transform="translate(881.8,278.41) scale(1.0,1.04)" text-anchor="end" class="s" font-size="44.5">0</text>
<text transform="translate(881.8,367.81) scale(1.0,1.04)" text-anchor="end" class="s" font-size="44.5">−10</text>
<text transform="translate(881.8,457.21) scale(1.0,1.04)" text-anchor="end" class="s" font-size="44.5">−20</text>
<text transform="translate(154.8,593.53) scale(1.0,1.04)" text-anchor="end" class="s" font-size="44.5">2</text>
<text transform="translate(154.8,742.48) scale(1.0,1.04)" text-anchor="end" class="s" font-size="44.5">0</text>
<text transform="translate(154.8,891.43) scale(1.0,1.04)" text-anchor="end" class="s" font-size="44.5">−2</text>
<text transform="translate(881.8,562.66) scale(1.0,1.04)" text-anchor="end" class="s" font-size="44.5">20</text>
<text transform="translate(881.8,651.96) scale(1.0,1.04)" text-anchor="end" class="s" font-size="44.5">10</text>
<text transform="translate(881.8,741.26) scale(1.0,1.04)" text-anchor="end" class="s" font-size="44.5">0</text>
<text transform="translate(881.8,830.56) scale(1.0,1.04)" text-anchor="end" class="s" font-size="44.5">−10</text>
<text transform="translate(881.8,919.86) scale(1.0,1.04)" text-anchor="end" class="s" font-size="44.5">−20</text>
<text transform="translate(152.5,1136.59) scale(1.0,1.04)" text-anchor="end" class="s" font-size="44.5">0</text>
<text transform="translate(152.5,1260.53) scale(1.0,1.04)" text-anchor="end" class="s" font-size="44.5">−50</text>
<text transform="translate(152.5,1384.47) scale(1.0,1.04)" text-anchor="end" class="s" font-size="44.5">−100</text>
<text transform="translate(152.5,1508.42) scale(1.0,1.04)" text-anchor="end" class="s" font-size="44.5">−150</text>
<text transform="translate(885,1499.53) scale(1.0,1.04)" text-anchor="end" class="s" font-size="44.5">0</text>
<text transform="translate(885,1362.02) scale(1.0,1.04)" text-anchor="end" class="s" font-size="44.5">1</text>
<text transform="translate(885,1224.52) scale(1.0,1.04)" text-anchor="end" class="s" font-size="44.5">2</text>
<text transform="translate(885,1087.01) scale(1.0,1.04)" text-anchor="end" class="s" font-size="44.5">3</text>
<text transform="translate(204.01,996.8) scale(1.0,1.04)" text-anchor="middle" class="s" font-size="44.5">−120</text>
<text transform="translate(323.13,996.8) scale(1.0,1.04)" text-anchor="middle" class="s" font-size="44.5">−60</text>
<text transform="translate(442.25,996.8) scale(1.0,1.04)" text-anchor="middle" class="s" font-size="44.5">0</text>
<text transform="translate(561.37,996.8) scale(1.0,1.04)" text-anchor="middle" class="s" font-size="44.5">60</text>
<text transform="translate(680.49,996.8) scale(1.0,1.04)" text-anchor="middle" class="s" font-size="44.5">120</text>
<text transform="translate(931.81,995.6) scale(1.0,1.04)" text-anchor="middle" class="s" font-size="44.5">−120</text>
<text transform="translate(1050.96,995.6) scale(1.0,1.04)" text-anchor="middle" class="s" font-size="44.5">−60</text>
<text transform="translate(1170.1,995.6) scale(1.0,1.04)" text-anchor="middle" class="s" font-size="44.5">0</text>
<text transform="translate(1289.24,995.6) scale(1.0,1.04)" text-anchor="middle" class="s" font-size="44.5">60</text>
<text transform="translate(1408.39,995.6) scale(1.0,1.04)" text-anchor="middle" class="s" font-size="44.5">120</text>
<text transform="translate(201.7,1564.5) scale(1.0,1.04)" text-anchor="middle" class="s" font-size="44.5">−120</text>
<text transform="translate(320.8,1564.5) scale(1.0,1.04)" text-anchor="middle" class="s" font-size="44.5">−60</text>
<text transform="translate(439.9,1564.5) scale(1.0,1.04)" text-anchor="middle" class="s" font-size="44.5">0</text>
<text transform="translate(559,1564.5) scale(1.0,1.04)" text-anchor="middle" class="s" font-size="44.5">60</text>
<text transform="translate(678.1,1564.5) scale(1.0,1.04)" text-anchor="middle" class="s" font-size="44.5">120</text>
<text transform="translate(894,1564.5) scale(1.0,1.04)" text-anchor="middle" class="s" font-size="44.5">0</text>
<text transform="translate(1064.86,1564.5) scale(1.0,1.04)" text-anchor="middle" class="s" font-size="44.5">100</text>
<text transform="translate(1235.72,1564.5) scale(1.0,1.04)" text-anchor="middle" class="s" font-size="44.5">200</text>
<text transform="translate(1406.58,1564.5) scale(1.0,1.04)" text-anchor="middle" class="s" font-size="44.5">300</text>
<text x="701.5" y="94.8" text-anchor="end" class="s" font-size="47.5">(a)</text>
<text x="1432.5" y="95.2" text-anchor="end" class="s" font-size="47.5">(b)</text>
<text x="699.5" y="556.8" text-anchor="end" class="s" font-size="47.5">(c)</text>
<text x="1432.5" y="557" text-anchor="end" class="s" font-size="47.5">(d)</text>
<text x="182.5" y="1123.6" class="s" font-size="47.5">(e)</text>
<text x="912.5" y="1123.6" class="s" font-size="47.5">(f)</text>
<text transform="translate(442.9,33.8) scale(0.99,1.04)" text-anchor="middle" class="s" font-size="46.5">5 K</text>
<text transform="translate(1180,34.2) scale(0.983,1.04)" text-anchor="middle" class="s" font-size="46.5">150 K</text>
<text transform="translate(361.64,1046) scale(0.8571,1.0181)" class="r i" style="stroke-width:0.35px" font-size="48.0">H</text>
<text transform="translate(391.8,1055) scale(0.9201,0.7762)" class="r i" style="stroke-width:0.35px" font-size="48.0">z</text>
<text transform="translate(422.43,1045.62) scale(1.2654,1.0064)" class="r" style="stroke-width:0.35px" font-size="48.0">(</text>
<text transform="translate(441.46,1045.7) scale(1.0309,0.9939)" class="r" style="stroke-width:0.35px" font-size="48.0">k</text>
<text transform="translate(466.27,1045.53) scale(0.8299,1.0047)" class="r" style="stroke-width:0.35px" font-size="48.0">O</text>
<text transform="translate(495.59,1045.54) scale(1.0695,0.9833)" class="r" style="stroke-width:0.35px" font-size="48.0">e</text>
<text transform="translate(517.14,1045.42) scale(1.2005,1.0064)" class="r" style="stroke-width:0.35px" font-size="48.0">)</text>
<text transform="translate(1093.14,1046.4) scale(0.8571,1.0181)" class="r i" style="stroke-width:0.35px" font-size="48.0">H</text>
<text transform="translate(1123.3,1055.4) scale(0.9201,0.7762)" class="r i" style="stroke-width:0.35px" font-size="48.0">z</text>
<text transform="translate(1153.93,1046.02) scale(1.2654,1.0064)" class="r" style="stroke-width:0.35px" font-size="48.0">(</text>
<text transform="translate(1172.96,1046.1) scale(1.0309,0.9939)" class="r" style="stroke-width:0.35px" font-size="48.0">k</text>
<text transform="translate(1197.77,1045.93) scale(0.8299,1.0047)" class="r" style="stroke-width:0.35px" font-size="48.0">O</text>
<text transform="translate(1227.09,1045.94) scale(1.0695,0.9833)" class="r" style="stroke-width:0.35px" font-size="48.0">e</text>
<text transform="translate(1248.64,1045.82) scale(1.2005,1.0064)" class="r" style="stroke-width:0.35px" font-size="48.0">)</text>
<text transform="translate(367.04,1610.2) scale(0.8571,1.0181)" class="r i" style="stroke-width:0.35px" font-size="48.0">H</text>
<text transform="translate(397.2,1619.2) scale(0.9201,0.7762)" class="r i" style="stroke-width:0.35px" font-size="48.0">z</text>
<text transform="translate(427.83,1609.82) scale(1.2654,1.0064)" class="r" style="stroke-width:0.35px" font-size="48.0">(</text>
<text transform="translate(446.86,1609.9) scale(1.0309,0.9939)" class="r" style="stroke-width:0.35px" font-size="48.0">k</text>
<text transform="translate(471.67,1609.73) scale(0.8299,1.0047)" class="r" style="stroke-width:0.35px" font-size="48.0">O</text>
<text transform="translate(500.99,1609.74) scale(1.0695,0.9833)" class="r" style="stroke-width:0.35px" font-size="48.0">e</text>
<text transform="translate(522.54,1609.62) scale(1.2005,1.0064)" class="r" style="stroke-width:0.35px" font-size="48.0">)</text>
<text transform="translate(1189.4,1612.9) scale(0.998,1.055)" text-anchor="middle" class="s" font-size="46.5">Temperature (K)</text>
<g transform="rotate(-90)">
<text transform="translate(-392.4,42.06) scale(1.0700,0.9926)" class="r i" font-size="48.0">ρ</text>
<text transform="translate(-365.8,50.34) scale(0.7736,0.7008)" class="r i" font-size="48.0">y</text>
<text transform="translate(-347.09,51.8) scale(0.8635,0.7807)" class="r i" font-size="48.0">x</text>
<text transform="translate(-313.5,42.01) scale(1.1843,0.9972)" class="r" font-size="48.0">(</text>
<text transform="translate(-296.45,41.28) scale(1.0918,0.9660)" class="r" font-size="48.0">μ</text>
<text transform="translate(-271.86,42) scale(0.9510,1.0006)" class="r" font-size="48.0">Ω</text>
<text transform="translate(-205.86,42.23) scale(0.9611,1.0093)" class="r" font-size="48.0">c</text>
<text transform="translate(-185.21,42.2) scale(1.0062,0.9904)" class="r" font-size="48.0">m</text>
<text transform="translate(-148.53,42.01) scale(1.1843,0.9972)" class="r" font-size="48.0">)</text>
</g>
<circle cx="28.6" cy="222.7" r="2.9" fill="#000"/>
<g transform="rotate(-90)">
<text transform="translate(-391.4,773.76) scale(1.0700,0.9926)" class="r i" font-size="48.0">ρ</text>
<text transform="translate(-364.8,782.04) scale(0.7736,0.7008)" class="r i" font-size="48.0">y</text>
<text transform="translate(-346.09,783.5) scale(0.8635,0.7807)" class="r i" font-size="48.0">x</text>
<text transform="translate(-312.5,773.71) scale(1.1843,0.9972)" class="r" font-size="48.0">(</text>
<text transform="translate(-295.45,772.98) scale(1.0918,0.9660)" class="r" font-size="48.0">μ</text>
<text transform="translate(-270.86,773.7) scale(0.9510,1.0006)" class="r" font-size="48.0">Ω</text>
<text transform="translate(-204.86,773.93) scale(0.9611,1.0093)" class="r" font-size="48.0">c</text>
<text transform="translate(-184.21,773.9) scale(1.0062,0.9904)" class="r" font-size="48.0">m</text>
<text transform="translate(-147.53,773.71) scale(1.1843,0.9972)" class="r" font-size="48.0">)</text>
</g>
<circle cx="760.3" cy="221.7" r="2.9" fill="#000"/>
<g transform="rotate(-90)">
<text transform="translate(-849.6,46.36) scale(1.0700,0.9926)" class="r i" font-size="48.0">ρ</text>
<text transform="translate(-823,54.64) scale(0.7736,0.7008)" class="r i" font-size="48.0">y</text>
<text transform="translate(-804.29,56.1) scale(0.8635,0.7807)" class="r i" font-size="48.0">x</text>
<text transform="translate(-770.7,46.31) scale(1.1843,0.9972)" class="r" font-size="48.0">(</text>
<text transform="translate(-753.65,45.58) scale(1.0918,0.9660)" class="r" font-size="48.0">μ</text>
<text transform="translate(-729.06,46.3) scale(0.9510,1.0006)" class="r" font-size="48.0">Ω</text>
<text transform="translate(-663.06,46.53) scale(0.9611,1.0093)" class="r" font-size="48.0">c</text>
<text transform="translate(-642.41,46.5) scale(1.0062,0.9904)" class="r" font-size="48.0">m</text>
<text transform="translate(-605.73,46.31) scale(1.1843,0.9972)" class="r" font-size="48.0">)</text>
<text transform="translate(-828.71,51.03) scale(1.3182,1.2419)" class="r i" font-size="48.0">′</text>
</g>
<circle cx="32.9" cy="679.9" r="2.9" fill="#000"/>
<g transform="rotate(-90)">
<text transform="translate(-849.2,773.86) scale(1.0700,0.9926)" class="r i" font-size="48.0">ρ</text>
<text transform="translate(-822.6,782.14) scale(0.7736,0.7008)" class="r i" font-size="48.0">y</text>
<text transform="translate(-803.89,783.6) scale(0.8635,0.7807)" class="r i" font-size="48.0">x</text>
<text transform="translate(-770.3,773.81) scale(1.1843,0.9972)" class="r" font-size="48.0">(</text>
<text transform="translate(-753.25,773.08) scale(1.0918,0.9660)" class="r" font-size="48.0">μ</text>
<text transform="translate(-728.66,773.8) scale(0.9510,1.0006)" class="r" font-size="48.0">Ω</text>
<text transform="translate(-662.66,774.03) scale(0.9611,1.0093)" class="r" font-size="48.0">c</text>
<text transform="translate(-642.01,774) scale(1.0062,0.9904)" class="r" font-size="48.0">m</text>
<text transform="translate(-605.33,773.81) scale(1.1843,0.9972)" class="r" font-size="48.0">)</text>
<text transform="translate(-828.31,778.53) scale(1.3182,1.2419)" class="r i" font-size="48.0">′</text>
</g>
<circle cx="760.4" cy="679.5" r="2.9" fill="#000"/>
<g transform="rotate(-90)">
<text transform="translate(-1446.77,32.8) scale(0.9143,1.0067)" class="r" font-size="48.0">Δ</text>
<text transform="translate(-1417.02,32.89) scale(1.0524,0.9895)" class="r i" font-size="48.0">ρ</text>
<text transform="translate(-1393.3,43) scale(0.8589,0.7762)" class="r i" font-size="48.0">x</text>
<text transform="translate(-1373.5,43) scale(0.8589,0.7762)" class="r i" font-size="48.0">x</text>
<text transform="translate(-1339.85,33.02) scale(1.1599,0.9765)" class="r" font-size="48.0">(</text>
<text transform="translate(-1323.15,32.28) scale(1.0918,0.9660)" class="r" font-size="48.0">μ</text>
<text transform="translate(-1298.56,33) scale(0.9510,1.0006)" class="r" font-size="48.0">Ω</text>
<text transform="translate(-1232.56,33.23) scale(0.9611,1.0093)" class="r" font-size="48.0">c</text>
<text transform="translate(-1211.91,33.2) scale(1.0062,0.9904)" class="r" font-size="48.0">m</text>
<text transform="translate(-1175.26,33.02) scale(1.2005,0.9765)" class="r" font-size="48.0">)</text>
</g>
<circle cx="19.6" cy="1249.4" r="2.9" fill="#000"/>
<g transform="rotate(-90)">
<text transform="translate(-1562.67,807.9) scale(1.0468,0.9504)" class="r i" font-size="48.0">∂</text>
<text transform="translate(-1539.43,808) scale(0.9437,1.0130)" class="r" font-size="48.0">Δ</text>
<text transform="translate(-1509.31,807.66) scale(1.0612,0.9926)" class="r i" font-size="48.0">ρ</text>
<text transform="translate(-1484.9,817.7) scale(0.8589,0.7353)" class="r i" font-size="48.0">x</text>
<text transform="translate(-1464.9,817.7) scale(0.8589,0.7353)" class="r i" font-size="48.0">x</text>
<text transform="translate(-1439.3,817.08) scale(1.0002,1.3174)" class="r i" font-size="48.0">/</text>
<text transform="translate(-1421.08,807.12) scale(1.1808,0.9163)" class="r i" font-size="48.0">∂</text>
<text transform="translate(-1392.65,807.7) scale(0.8651,1.0022)" class="r i" font-size="48.0">H</text>
<text transform="translate(-1361.88,817.7) scale(0.7855,0.7353)" class="r i" font-size="48.0">z</text>
<text transform="translate(-1331.95,807.79) scale(1.2573,0.9995)" class="r" font-size="48.0">(</text>
<text transform="translate(-1314.21,807.19) scale(1.1069,0.9753)" class="r" font-size="48.0">μ</text>
<text transform="translate(-1289.47,808.1) scale(0.9543,1.0163)" class="r" font-size="48.0">Ω</text>
<text transform="translate(-1223.45,807.64) scale(1.0111,0.9876)" class="r" font-size="48.0">c</text>
<text transform="translate(-1205.27,808.2) scale(1.0596,0.9904)" class="r" font-size="48.0">m</text>
<text transform="translate(-1153.65,808.2) scale(0.8678,1.0181)" class="r" font-size="48.0">T</text>
<text transform="translate(-1100,790.6) scale(0.7575,0.6312)" class="r" font-size="48.0">1</text>
<text transform="translate(-1081.11,807.92) scale(1.2330,0.9765)" class="r" font-size="48.0">)</text>
</g>
<circle cx="794.5" cy="1240.1" r="2.9" fill="#000"/>
<rect x="780.2" y="1103.2" width="1.6" height="19.3" fill="#000"/>
</svg></body></html>
